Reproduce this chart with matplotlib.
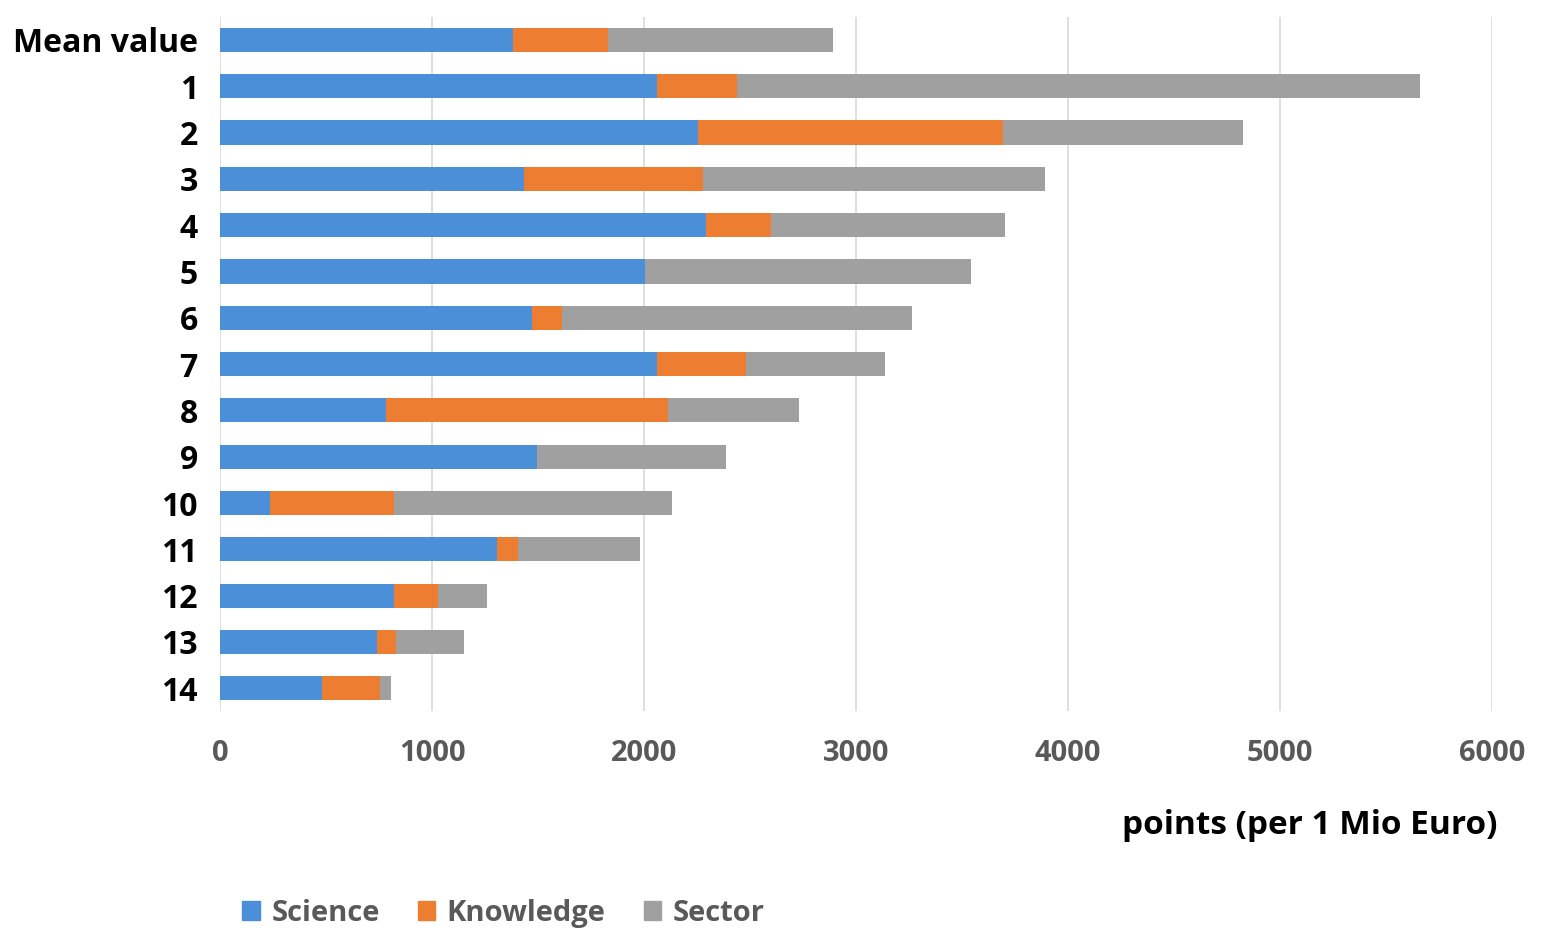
import matplotlib.pyplot as plt
from matplotlib.patches import Patch

categories = ['Mean value', '1', '2', '3', '4', '5', '6', '7', '8', '9', '10', '11', '12', '13', '14']
science = [1382, 2061, 2255, 1434, 2292, 2005, 1472, 2061, 783, 1495, 236, 1307, 821, 741, 481]
knowledge = [448, 378, 1438, 844, 307, 0, 141, 420, 1330, 0, 585, 99, 207, 89, 274]
sector = [1062, 3221, 1132, 1614, 1104, 1537, 1651, 656, 618, 892, 1311, 575, 231, 321, 52]
xticks = [0, 1000, 2000, 3000, 4000, 5000, 6000]

plt.rcParams['font.family'] = ['Open Sans', 'DejaVu Sans']

fig = plt.figure(figsize=(15.42, 9.3), dpi=100)
ax = fig.add_axes([0.1427, 0.235, 0.8249, 0.747])

colors = ['#4A8FD8', '#ED7D31', '#A0A0A0']
ypos = list(range(len(categories)))
left_k = [s for s in science]
left_s = [s + k for s, k in zip(science, knowledge)]
ax.barh(ypos, science, height=0.52, color=colors[0], zorder=3)
ax.barh(ypos, knowledge, left=left_k, height=0.52, color=colors[1], zorder=3)
ax.barh(ypos, sector, left=left_s, height=0.52, color=colors[2], zorder=3)

ax.set_xlim(0, 6000)
ax.set_ylim(len(categories) - 0.5, -0.5)
ax.set_xticks(xticks)
ax.set_xticklabels([str(t) for t in xticks], fontsize=21, fontweight='bold', color='#595959')
ax.set_yticks(ypos)
ax.set_yticklabels(categories, fontsize=23, fontweight='bold', color='black')
ax.tick_params(axis='both', length=0)
ax.tick_params(axis='x', pad=20)
ax.tick_params(axis='y', pad=16)
ax.grid(axis='x', color='#D9D9D9', linewidth=1.2, zorder=0)
for sp in ax.spines.values():
    sp.set_visible(False)

fig.text(0.971, 0.112, 'points (per 1 Mio Euro)', ha='right', va='center',
         fontsize=24, fontweight='bold', color='black')

handles = [Patch(color=c) for c in colors]
fig.legend(handles, ['Science', 'Knowledge', 'Sector'], loc='center left',
           bbox_to_anchor=(0.14, 0.018), ncol=3, frameon=False,
           prop={'size': 21, 'weight': 'bold'}, labelcolor='#595959',
           handlelength=0.6, handleheight=0.6, handletextpad=0.4, columnspacing=1.3)

fig.savefig('out.png', dpi=100)
